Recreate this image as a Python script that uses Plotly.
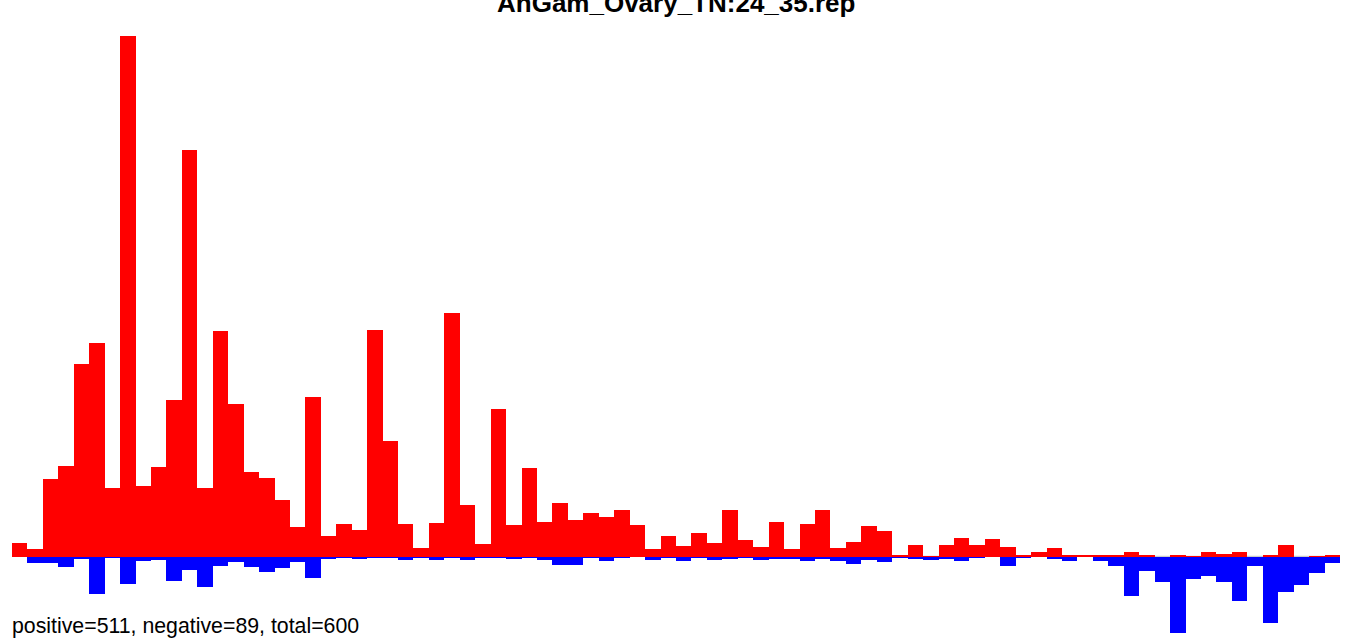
import plotly.graph_objects as go

title_text = "AnGam_Ovary_TN:24_35.rep"
summary_text = "positive=511, negative=89, total=600"

bins = list(range(86))
positive = [14, 8.5, 78, 91, 193, 214, 69, 521, 71, 90, 157, 407, 69, 226, 153, 85, 79, 57, 30, 160,
            21, 33, 27, 227, 116, 33, 9, 34, 244, 52, 13, 148, 32, 89, 35, 54, 37, 44, 40, 47,
            32, 8, 21, 11, 24, 14, 47, 17, 10, 35, 8, 33, 47, 9, 15, 31, 26, 2, 12, 1,
            12, 19, 12, 18, 10, 2, 5, 9, 2, 2, 2, 2, 5, 2, 0, 2, 1, 5, 3, 5,
            0, 2, 12, 0, 1, 2]
negative = [0, 6, 6, 10, 2, 37, 1, 27, 4, 3, 24, 13, 30, 9, 5, 10, 15, 11, 5, 21,
            2, 1, 2, 1, 1, 3, 1, 3, 1, 3, 1, 1, 2, 1, 3, 8, 8, 1, 4, 1,
            0, 3, 1, 4, 1, 3, 2, 1, 3, 2, 2, 4, 2, 4, 7, 3, 5, 1, 2, 3,
            2, 4, 1, 0, 9, 1, 0, 2, 4, 0, 4, 9, 39, 14, 25, 76, 22, 19, 25, 44,
            9, 66, 35, 28, 16, 6]

W, H = 1352, 643
fig = go.Figure()
fig.add_trace(go.Bar(x=bins, y=positive, marker=dict(color="#FF0000", line=dict(width=0)),
                     hoverinfo="x+y", name="positive"))
fig.add_trace(go.Bar(x=bins, y=[-v for v in negative], marker=dict(color="#0000FF", line=dict(width=0)),
                     hoverinfo="x+y", name="negative"))

fig.add_shape(type="line", xref="x", yref="y", x0=-0.5, x1=len(bins) - 0.5, y0=0.7, y1=0.7,
              line=dict(color="#BEBEBE", width=1), layer="below")

fig.add_annotation(text="<b>" + title_text + "</b>", xref="paper", yref="paper",
                   x=0.5, y=1 - 11 / H, xanchor="center", yanchor="bottom",
                   showarrow=False, font=dict(family="Liberation Sans", size=26, color="#000000"),
                   yshift=-9)
fig.add_annotation(text=summary_text, xref="paper", yref="paper",
                   x=0, y=1 - 634 / H, xanchor="left", yanchor="bottom",
                   showarrow=False, font=dict(family="Liberation Sans", size=21.3, color="#000000"),
                   xshift=-2, yshift=-6)

fig.update_layout(
    width=W, height=H,
    margin=dict(l=12, r=12, t=0, b=0),
    barmode="overlay", bargap=0,
    plot_bgcolor="white", paper_bgcolor="white",
    showlegend=False,
    xaxis=dict(range=[-0.5, len(bins) - 0.5], visible=False, fixedrange=True),
    yaxis=dict(range=[-(H - 557), 557], visible=False, fixedrange=True),
)
fig.write_html("out.html", config={"displayModeBar": False},
               post_script="document.body.style.margin='0px';document.body.style.overflow='hidden';")
